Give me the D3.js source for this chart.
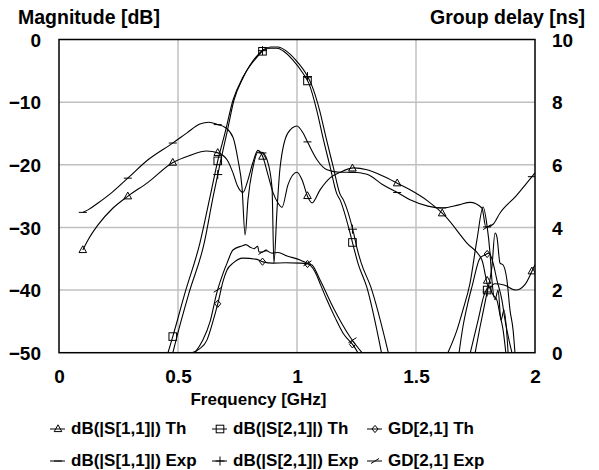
<!DOCTYPE html>
<html>
<head>
  <meta charset="utf-8">
  <title>Filter response</title>
  <script src="https://cdn.jsdelivr.net/npm/d3@7"></script>
</head>
<style>
  html,
  body {
    margin: 0;
    padding: 0;
    background: #fff;
    overflow: hidden
  }

  svg text {
    font-family: Arial, "Liberation Sans", sans-serif;
    font-weight: bold;
    fill: #000;
  }

  .grid line {
    stroke: #c0c0c0;
    stroke-width: 1.5;
  }

  .curve {
    fill: none;
    stroke: #000;
    stroke-width: 1.1;
  }

  .mark {
    fill: none;
    stroke: #000;
    stroke-width: 1;
  }
</style>

<body>
  <div id="chart"></div>
</body>
<script>
  // frequency in GHz, magnitude in dB, group delay in ns. null = gap in the trace
  const s11Th = [[0.1, -33.6], [0.122, -32.0], [0.164, -29.6], [0.227, -26.9], [0.29, -25.0], [0.374, -22.8],
    [0.475, -19.7], [0.55, -18.5], [0.62, -17.8], [0.668, -18.1], [0.706, -19.2], [0.731, -21.3], [0.75, -23.4],
    [0.773, -24.4], [0.794, -22.4], [0.815, -19.6], [0.836, -17.7], [0.857, -18.8], [0.878, -21.6], [0.899, -24.4],
    [0.92, -26.1], [0.937, -26.8], [0.962, -23.2], [1.0, -21.2], [1.021, -22.4], [1.046, -25.2], [1.063, -26.1],
    [1.097, -24.0], [1.139, -22.1], [1.181, -21.2], [1.239, -20.5], [1.294, -20.8], [1.361, -21.8], [1.429, -23.1],
    [1.475, -24.0], [1.55, -25.8], [1.618, -28.0], [1.714, -32.5], [1.777, -35.2], [1.807, -39.7], [1.83, -39.0],
    [1.87, -39.2], [1.92, -40.0], [1.96, -39.0], [1.987, -37.0], [2.0, -35.9]]

  const s11Exp = [[0.1, -27.6], [0.122, -27.2], [0.164, -26.1], [0.223, -24.4], [0.29, -22.1], [0.374, -19.2],
    [0.479, -16.5], [0.538, -14.9], [0.592, -13.5], [0.63, -13.2], [0.668, -13.6], [0.697, -14.0], [0.731, -15.6],
    [0.752, -19.2], [0.769, -23.6], [0.782, -31.2], [0.794, -25.6], [0.815, -20.4], [0.836, -18.0], [0.853, -18.0],
    [0.874, -19.2], [0.895, -23.6], [0.903, -35.7], [0.916, -27.2], [0.929, -20.4], [0.962, -14.9], [1.0, -13.8],
    [1.025, -14.9], [1.046, -16.5], [1.084, -19.2], [1.126, -20.8], [1.181, -21.2], [1.235, -21.2], [1.294, -21.5],
    [1.361, -23.2], [1.42, -24.4], [1.475, -25.6], [1.55, -26.6], [1.613, -26.9], [1.68, -26.4], [1.727, -26.0],
    [1.777, -26.9], [1.794, -30.0], [1.824, -29.5], [1.853, -27.7], [1.92, -25.0], [2.0, -21.3]]

  const s21Th = [[0.454, -50.5], [0.479, -47.3], [0.529, -40.5], [0.592, -32.5], [0.634, -25.2], [0.668, -19.2],
    [0.697, -15.0], [0.731, -9.7], [0.773, -6.0], [0.832, -2.8], [0.857, -1.8], [0.887, -1.4], [0.916, -1.4],
    [0.941, -1.8], [0.983, -3.3], [1.025, -5.4], [1.05, -7.0], [1.083, -11.3], [1.111, -16.0], [1.139, -20.3],
    [1.167, -24.6], [1.181, -25.6], [1.223, -30.9], [1.239, -33.3], [1.256, -35.7], [1.293, -39.5], [1.356, -50.2],
    null,
    [1.727, -50.2], [1.761, -44.8], [1.786, -40.8], [1.807, -39.5], [1.824, -40.8], [1.84, -41.6], [1.853, -44.0],
    [1.866, -46.4], [1.878, -50.2]]

  const s21Exp = [[0.475, -50.5], [0.495, -47.5], [0.546, -40.5], [0.61, -32.5], [0.647, -25.2], [0.68, -19.2],
    [0.705, -15.0], [0.735, -9.7], [0.775, -6.0], [0.832, -2.6], [0.86, -1.6], [0.89, -1.2], [0.92, -1.2],
    [0.95, -1.7], [0.995, -3.3], [1.04, -5.6], [1.063, -7.4], [1.095, -11.3], [1.124, -16.0], [1.152, -20.3],
    [1.18, -24.6], [1.195, -25.6], [1.238, -30.9], [1.252, -33.3], [1.27, -35.7], [1.31, -39.5], [1.385, -50.2],
    null,
    [1.748, -50.1], [1.769, -45.9], [1.798, -40.5], [1.819, -36.3], [1.832, -30.9], [1.84, -31.5], [1.853, -35.7],
    [1.866, -36.0], [1.882, -38.4], [1.895, -43.2], [1.908, -46.4], [1.916, -50.1]]

  const gdTh = [[0.559, 0], [0.59, 0.12], [0.622, 0.41], [0.645, 0.95], [0.668, 1.59], [0.69, 2.3], [0.706, 2.64],
    [0.731, 2.86], [0.773, 3.02], [0.832, 2.98], [0.857, 2.9], [0.899, 2.86], [0.95, 2.87], [1.013, 2.86],
    [1.046, 2.83], [1.076, 2.58], [1.1, 2.15], [1.126, 1.68], [1.16, 1.12], [1.193, 0.63], [1.239, 0.21], [1.256, 0],
    null,
    [1.681, 0], [1.697, 0.82], [1.718, 1.59], [1.735, 2.1], [1.769, 3.02], [1.79, 3.12], [1.807, 3.18],
    [1.824, 2.86], [1.84, 2.32], [1.861, 1.68], [1.874, 1.05], [1.903, 0]]

  const gdExp = [[0.571, 0], [0.605, 0.41], [0.635, 1.0], [0.664, 1.94], [0.69, 2.55], [0.706, 2.86], [0.731, 3.28],
    [0.769, 3.41], [0.785, 3.45], [0.803, 3.37], [0.82, 3.32], [0.835, 3.4], [0.84, 3.22], [0.853, 3.21],
    [0.87, 3.26], [0.895, 3.18], [0.92, 3.2], [0.958, 3.09], [1.013, 2.96], [1.042, 2.86], [1.063, 2.8],
    [1.097, 2.32], [1.151, 1.46], [1.223, 0.5], [1.273, 0],
    null,
    [1.634, 0], [1.672, 0.72], [1.697, 1.36], [1.727, 2.22], [1.756, 3.6], [1.782, 4.65], [1.798, 4.08],
    [1.811, 3.18], [1.819, 2.32], [1.832, 1.69], [1.845, 2.0], [1.857, 1.04], [1.87, 1.36], [1.887, 0]]

  const markerFreqs = [0.1, 0.289, 0.478, 0.667, 0.855, 1.044, 1.233, 1.421, 1.61, 1.799, 1.987]
  const freqTicks = [0, 0.5, 1, 1.5, 2]
  const dbTicks = [0, -10, -20, -30, -40, -50]
  const nsTicks = [0, 2, 4, 6, 8, 10]
  const legendLabels = ['dB(|S[1,1]|) Th', 'dB(|S[2,1]|) Th', 'GD[2,1] Th',
    'dB(|S[1,1]|) Exp', 'dB(|S[2,1]|) Exp', 'GD[2,1] Exp']

  const width = 599, height = 470
  const plotL = 59, plotR = 535, plotT = 39.5, plotB = 352.7

  const svg = d3.select('#chart')
    .append('svg')
    .attr('width', width)
    .attr('height', height)

  const x = d3.scaleLinear().domain([0, 2]).range([plotL, plotR])
  const yDb = d3.scaleLinear().domain([-50, 0]).range([plotB, plotT])
  const yNs = d3.scaleLinear().domain([0, 10]).range([plotB, plotT])

  // grid
  const grid = svg.append('g').attr('class', 'grid')
  grid.selectAll('.v').data(freqTicks.slice(1, -1)).enter().append('line')
    .attr('x1', d => x(d)).attr('x2', d => x(d)).attr('y1', plotT).attr('y2', plotB)
  grid.selectAll('.h').data(dbTicks.slice(1, -1)).enter().append('line')
    .attr('x1', plotL).attr('x2', plotR).attr('y1', d => yDb(d)).attr('y2', d => yDb(d))

  svg.append('clipPath').attr('id', 'plotClip')
    .append('rect').attr('x', plotL).attr('y', plotT).attr('width', plotR - plotL).attr('height', plotB - plotT)

  // marker shapes
  const shapes = {
    tri: g => g.append('path').attr('d', 'M0,-4.2L3.8,2.6L-3.8,2.6Z'),
    sq: g => g.append('rect').attr('x', -3.8).attr('y', -3.8).attr('width', 7.6).attr('height', 7.6),
    dia: g => g.append('path').attr('d', 'M0,-3.6L3,0L0,3.6L-3,0Z'),
    dash: g => g.append('path').attr('d', 'M-4,0H4'),
    plus: g => g.append('path').attr('d', 'M-4.5,0H4.5M0,-4.5V4.5'),
    slash: g => g.append('path').attr('d', 'M-4,2.5L4,-2.5')
  }

  const series = [
    { data: s11Th, y: yDb, mark: 'tri' },
    { data: s21Th, y: yDb, mark: 'sq' },
    { data: gdTh, y: yNs, mark: 'dia' },
    { data: s11Exp, y: yDb, mark: 'dash' },
    { data: s21Exp, y: yDb, mark: 'plus' },
    { data: gdExp, y: yNs, mark: 'slash' }
  ]

  function valueAt(data, f) {
    for (let i = 0; i < data.length - 1; i++) {
      const a = data[i], b = data[i + 1]
      if (!a || !b) continue
      if (f >= a[0] && f <= b[0]) return a[1] + (b[1] - a[1]) * (f - a[0]) / (b[0] - a[0])
    }
    return null
  }

  const plot = svg.append('g').attr('clip-path', 'url(#plotClip)')

  series.forEach(s => {
    const line = d3.line()
      .defined(d => d)
      .x(d => x(d[0]))
      .y(d => s.y(d[1]))
      .curve(d3.curveMonotoneX)

    plot.append('path')
      .attr('class', 'curve')
      .datum(s.data)
      .attr('d', line)

    const [lo, hi] = s.y.domain()
    markerFreqs.forEach(f => {
      const v = valueAt(s.data, f)
      if (v === null || v < lo || v > hi) return
      const g = plot.append('g').attr('class', 'mark')
        .attr('transform', 'translate(' + x(f) + ',' + s.y(v) + ')')
      shapes[s.mark](g)
    })
  })

  // frame
  svg.append('rect')
    .attr('x', plotL).attr('y', plotT).attr('width', plotR - plotL).attr('height', plotB - plotT)
    .attr('fill', 'none').attr('stroke', '#000').attr('stroke-width', 1.5)

  // axes
  const fmtF = d3.format('~g')
  const xAxis = svg.append('g')
    .attr('transform', 'translate(0,' + plotB + ')')
    .call(d3.axisBottom(x).tickValues(freqTicks).tickFormat(fmtF).tickSize(0))
  xAxis.selectAll('text').attr('y', 30.3).attr('dy', 0)

  const yAxisL = svg.append('g')
    .attr('transform', 'translate(' + plotL + ',0)')
    .call(d3.axisLeft(yDb).tickValues(dbTicks).tickSize(0).tickPadding(18))
  yAxisL.selectAll('text').attr('dy', '0.35em')

  const yAxisR = svg.append('g')
    .attr('transform', 'translate(' + plotR + ',0)')
    .call(d3.axisRight(yNs).tickValues(nsTicks).tickSize(0).tickPadding(17))
  yAxisR.selectAll('text').attr('dy', '0.35em')

  ;[xAxis, yAxisL, yAxisR].forEach(ax => {
    ax.select('.domain').remove()
    ax.attr('font-family', null).attr('font-size', null)
    ax.selectAll('text').style('font-size', '19px')
  })

  // titles
  svg.append('text').attr('x', 18).attr('y', 24).style('font-size', '19.5px').text('Magnitude [dB]')
  svg.append('text').attr('x', 585).attr('y', 24).attr('text-anchor', 'end').style('font-size', '19.5px')
    .text('Group delay [ns]')
  svg.append('text').attr('x', 258.5).attr('y', 405).attr('text-anchor', 'middle').style('font-size', '17px')
    .text('Frequency [GHz]')

  // legend
  const legendCols = [50, 212, 367]
  const legendRows = [434, 466]
  legendLabels.forEach((label, i) => {
    const cx = legendCols[i % 3]
    const by = legendRows[Math.floor(i / 3)]
    const ly = by - 5
    const g = svg.append('g')
    g.append('line').attr('x1', cx).attr('x2', cx + 15).attr('y1', ly).attr('y2', ly)
      .attr('stroke', '#000').attr('stroke-width', 1)
    const m = g.append('g').attr('class', 'mark').attr('transform', 'translate(' + (cx + 8) + ',' + ly + ')')
    shapes[series[i].mark](m)
    g.append('text').attr('x', cx + 21).attr('y', by).style('font-size', '17px').text(label)
  })
</script>

</html>
